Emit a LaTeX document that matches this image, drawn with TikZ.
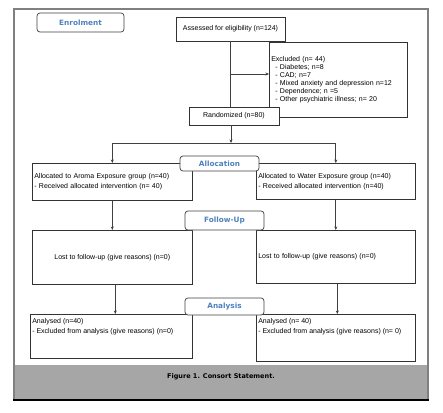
\documentclass[tikz,border=0pt]{standalone}
\usepackage{fontspec}
\setmainfont{Liberation Sans}
\newfontfamily\labelfont{DejaVu Sans}
\usetikzlibrary{arrows.meta,positioning,calc}
\definecolor{CSblue}{HTML}{4F81BD}
\definecolor{CSband}{HTML}{A6A6A6}
\definecolor{CSframe}{HTML}{808080}

\tikzset{
  flowbox/.style={draw=black!80,fill=white,line width=0.6pt,inner sep=2pt,
                  font=\fontsize{7}{10}\selectfont},
  stagebox/.style={draw=black!75,fill=white,rounded corners=3pt,line width=0.7pt,
                   inner sep=1pt,text=CSblue,
                   font=\labelfont\bfseries\fontsize{7.3}{8}\selectfont},
  flowline/.style={black!75,line width=0.7pt},
  flowarrow/.style={flowline,-{Stealth[length=3.5pt,width=3pt]}}
}

\begin{document}
\begin{tikzpicture}[x=1pt,y=-1pt]
  \useasboundingbox (0,0) rectangle (443,412);

  % frame and caption band
  \fill[CSband] (14,365) rectangle (428,399);
  \draw[CSframe,line width=1.5pt] (14,399) -- (14,9) -- (428,9) -- (428,399);
  \draw[black,line width=2pt] (13,399.5) -- (429,399.5);
  \node[font=\labelfont\bfseries\fontsize{6.5}{7}\selectfont] (cap) at (221,377)
    {Figure 1. Consort Statement.};

  % enrolment
  \node[flowbox,minimum width=109pt,minimum height=24pt] (assess) at (230.5,29)
    {Assessed for eligibility (n=124)};
  \node[flowbox,anchor=north west,text width=134pt,align=left,minimum height=75pt,
        font=\fontsize{7}{8}\selectfont] (excl) at (269,42)
    {Excluded (n= 44)\\
     \hspace*{4pt}- Diabetes; n=8\\
     \hspace*{4pt}- CAD; n=7\\
     \hspace*{4pt}- Mixed anxiety and depression n=12\\
     \hspace*{4pt}- Dependence; n =5\\
     \hspace*{4pt}- Other psychiatric illness; n= 20};
  \coordinate (branch) at (230.5,74);
  \coordinate (split) at (231,143);
  \draw[flowline] (assess) -- (assess |- 0,107);
  \draw[flowarrow] (branch) -- (branch -| excl.west);
  \node[flowbox,minimum width=90pt,minimum height=18pt] (rand) at (234,116)
    {Randomized (n=80)};

  % allocation
  \node[flowbox,anchor=north west,text width=156pt,align=left,minimum height=37pt]
    (aroma) at (32,163)
    {Allocated to Aroma Exposure group (n=40)\\
     - Received allocated intervention (n= 40)};
  \node[flowbox,anchor=north west,text width=155pt,align=left,minimum height=36pt]
    (water) at (256,163)
    {Allocated to Water Exposure group (n=40)\\
     - Received allocated intervention (n=40)};
  \draw[flowarrow] (rand.south -| split) -- (split);
  \draw[flowline] (split -| aroma) -- (split -| water);
  \draw[flowarrow] (split -| aroma) -- (aroma);
  \draw[flowarrow] (split -| water) -- (water);

  % follow-up
  \node[flowbox,anchor=north west,minimum width=160pt,minimum height=54pt] (lostA)
    at (32,230) {Lost to follow-up (give reasons) (n=0)};
  \node[flowbox,anchor=north west,text width=155pt,align=left,minimum height=53pt]
    (lostB) at (256,230) {Lost to follow-up (give reasons) (n=0)};
  \draw[flowarrow] (aroma) -- (lostA);
  \draw[flowarrow] (water) -- (lostB);

  % analysis
  \node[flowbox,anchor=north west] (anaA) at (30,314)
    {\parbox[c][40pt][t]{158pt}{\vspace*{2pt}Analysed (n=40)\\
     - Excluded from analysis (give reasons) (n=0)}};
  \node[flowbox,anchor=north west] (anaB) at (256,314)
    {\parbox[c][43pt][t]{155pt}{\vspace*{2pt}Analysed (n= 40)\\
     - Excluded from analysis (give reasons) (n= 0)}};
  \draw[flowarrow] ([xshift=3pt]lostA.south) -- ([xshift=3pt]lostA.south |- anaA.north);
  \draw[flowarrow] ([xshift=1.5pt]lostB.south) -- ([xshift=1.5pt]lostB.south |- anaB.north);

  % stage labels
  \node[stagebox,minimum width=87pt,minimum height=19pt] (enrol) at (80.5,22.5) {Enrolment};
  \node[stagebox,minimum width=79pt,minimum height=15pt] (alloc) at (219.5,163.5) {Allocation};
  \node[stagebox,minimum width=79pt,minimum height=19pt] (follow) at (224.5,220.5) {Follow-Up};
  \node[stagebox,minimum width=79pt,minimum height=17pt] (analysis) at (224.5,306.5) {Analysis};
\end{tikzpicture}
\end{document}
